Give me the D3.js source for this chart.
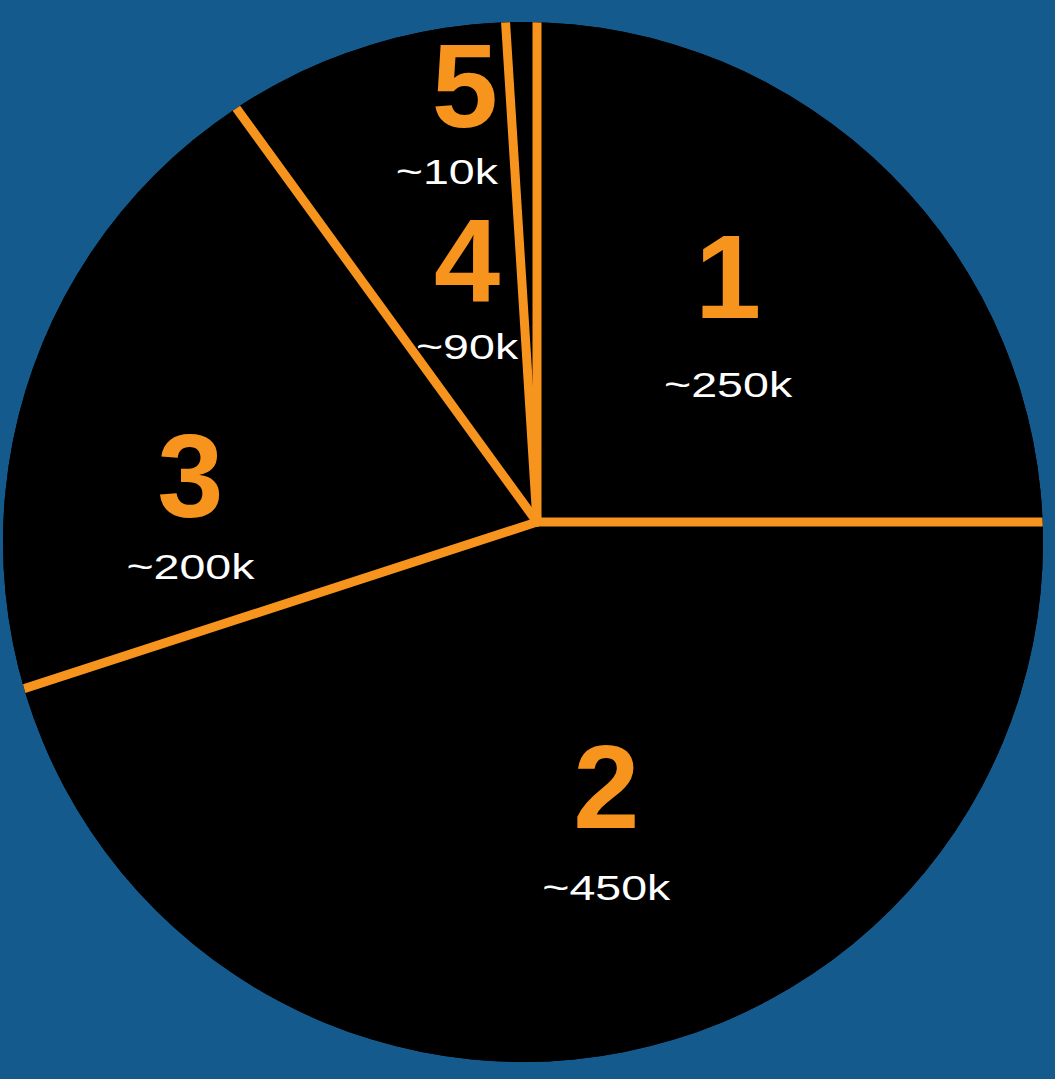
<!DOCTYPE html>
<html>
<head>
<meta charset="utf-8">
<script src="https://cdn.jsdelivr.net/npm/d3@7"></script>
<style>
  html, body { margin: 0; padding: 0; background: #155a8d; overflow: hidden; }
  svg { display: block; }
</style>
</head>
<body>
<svg id="chart" width="1055" height="1079"></svg>
<script>
// Slice data (values in thousands), clockwise from 12 o'clock
const categories  = ["1", "2", "3", "4", "5"];
const values      = [250, 450, 200, 90, 10];
const valueLabels = ["~250k", "~450k", "~200k", "~90k", "~10k"];

// Label placement inside each wedge: t = position across the wedge's angle,
// r = distance from the hub, gap = number baseline to value baseline.
// The very narrow last wedge gets its label just outside its left edge.
const labelLayout = [
  { t: 0.474, r: 282, gap: 79, anchor: "middle" },
  { t: 0.475, r: 307, gap: 72, anchor: "middle" },
  { t: 0.289, r: 347, gap: 62, anchor: "middle" },
  { t: 0.597, r: 244, gap: 57, anchor: "middle" },
  { t: -0.514, r: 411, gap: 57, anchor: "end" }
];

const W = 1055, H = 1079;
const BG = "#155a8d", ORANGE = "#f7941d", DISC = "#000000";
const disc = { cx: 523, cy: 542, r: 520 };   // the black pie face
const hub  = { x: 537, y: 522 };              // where the separators meet
const REACH = 570;                            // separator length before clipping
const NUM_SIZE = 119, NUM_CAP = 85, VAL_SIZE = 35, VAL_STRETCH = 1.33;
const FONT = "'Liberation Sans', Arial, Helvetica, sans-serif";

const svg = d3.select("#chart");
svg.append("rect").attr("width", W).attr("height", H).attr("fill", BG);

svg.append("defs").append("clipPath").attr("id", "face")
  .append("circle").attr("cx", disc.cx).attr("cy", disc.cy).attr("r", disc.r);

svg.append("circle")
  .attr("cx", disc.cx).attr("cy", disc.cy).attr("r", disc.r)
  .attr("fill", DISC);

const rows = categories.map((c, i) => ({ category: c, value: values[i], label: valueLabels[i], layout: labelLayout[i] }));
const pie = d3.pie().sort(null).value(d => d.value);
const slices = pie(rows);

const clipped = svg.append("g").attr("clip-path", "url(#face)");
const plot = clipped.append("g").attr("transform", `translate(${hub.x},${hub.y})`);

// wedges
const arc = d3.arc().innerRadius(0).outerRadius(REACH);
plot.selectAll("path.slice")
  .data(slices)
  .join("path")
  .attr("class", "slice")
  .attr("d", arc)
  .attr("fill", DISC);

// orange separators along each wedge's starting edge
const polar = (a, r) => [r * Math.sin(a), -r * Math.cos(a)];
plot.selectAll("line.sep")
  .data(slices)
  .join("line")
  .attr("class", "sep")
  .attr("x1", 0).attr("y1", 0)
  .attr("x2", d => polar(d.startAngle, REACH)[0])
  .attr("y2", d => polar(d.startAngle, REACH)[1])
  .attr("stroke", ORANGE)
  .attr("stroke-width", 9)
  .attr("stroke-linecap", "round");

// labels: big orange slice number with the white value beneath
const labels = svg.append("g").attr("transform", `translate(${hub.x},${hub.y})`)
  .selectAll("g.label")
  .data(slices)
  .join("g")
  .attr("class", "label")
  .attr("transform", d => {
    const L = d.data.layout;
    const a = d.startAngle + L.t * (d.endAngle - d.startAngle);
    const [x, y] = polar(a, L.r);
    return `translate(${x},${y})`;
  });

labels.append("text")
  .attr("y", d => (NUM_CAP - d.data.layout.gap) / 2)
  .attr("text-anchor", d => d.data.layout.anchor)
  .attr("font-family", FONT)
  .attr("font-weight", "bold")
  .attr("font-size", NUM_SIZE)
  .attr("fill", ORANGE)
  .text(d => d.data.category);

labels.append("g")
  .attr("transform", d => `translate(0,${(NUM_CAP - d.data.layout.gap) / 2 + d.data.layout.gap}) scale(${VAL_STRETCH},1)`)
  .append("text")
  .attr("text-anchor", d => d.data.layout.anchor)
  .attr("font-family", FONT)
  .attr("font-size", VAL_SIZE)
  .attr("fill", "#ffffff")
  .text(d => d.data.label);
</script>
</body>
</html>
